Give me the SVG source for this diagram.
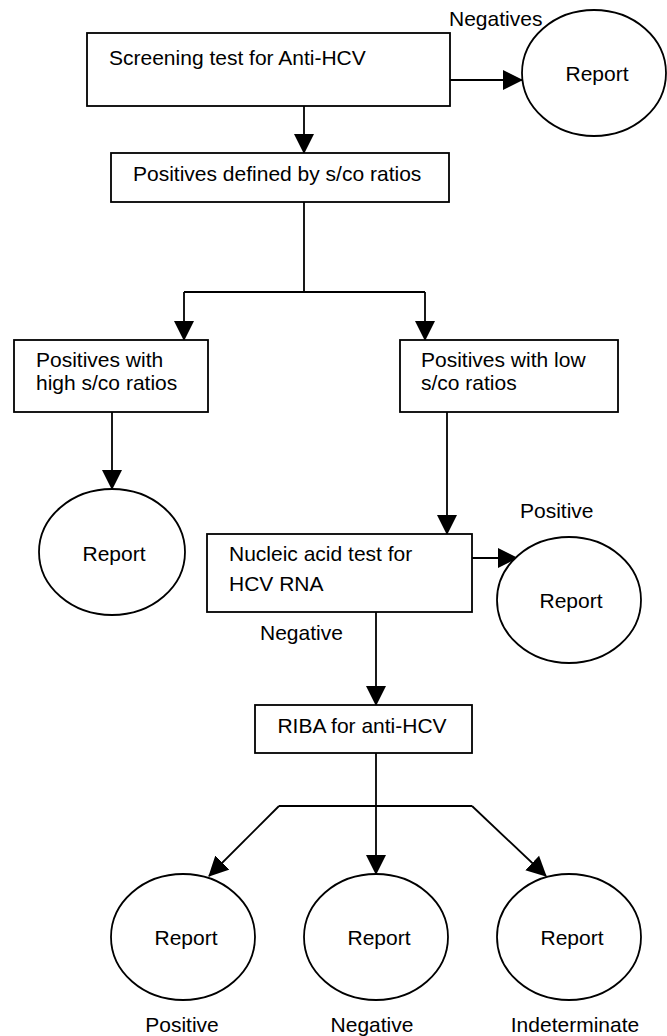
<svg xmlns="http://www.w3.org/2000/svg" width="667" height="1036" viewBox="0 0 667 1036">
<defs>
<style>
.box{fill:#fff;stroke:#000;stroke-width:1.8}
.circ{fill:#fff;stroke:#000;stroke-width:1.8}
.ln{fill:none;stroke:#000;stroke-width:1.8}
text{font-family:"Liberation Sans",Arial,sans-serif;font-size:21px;fill:#000}
.c{text-anchor:middle}
</style>
<marker id="ah" markerUnits="userSpaceOnUse" viewBox="0 0 20 20" markerWidth="20" markerHeight="21" refX="19" refY="10" orient="auto">
<path d="M0,0 L20,10 L0,20 z" fill="#000"/>
</marker>
</defs>
<rect width="667" height="1036" fill="#fff"/>
<g id="connectors">
<path class="ln" d="M450,80 L522,80" marker-end="url(#ah)"/>
<path class="ln" d="M304,106 L304,153" marker-end="url(#ah)"/>
<path class="ln" d="M304,202 L304,292 M184,292 L425,292"/>
<path class="ln" d="M184,292 L184,340" marker-end="url(#ah)"/>
<path class="ln" d="M425,292 L425,340" marker-end="url(#ah)"/>
<path class="ln" d="M112,412 L112,489" marker-end="url(#ah)"/>
<path class="ln" d="M447,412 L447,534" marker-end="url(#ah)"/>
<path class="ln" d="M472,558 L517,558" marker-end="url(#ah)"/>
<path class="ln" d="M376,612 L376,705" marker-end="url(#ah)"/>
<path class="ln" d="M376,753 L376,874" marker-end="url(#ah)"/>
<path class="ln" d="M279,806 L472,806"/>
<path class="ln" d="M279,806 L209,876" marker-end="url(#ah)"/>
<path class="ln" d="M472,806 L546,876" marker-end="url(#ah)"/>
</g>
<g id="screening">
<rect class="box" x="87" y="33" width="363" height="73"/>
<text x="109" y="65">Screening test for Anti-HCV</text>
</g>
<g id="report-negatives">
<ellipse class="circ" cx="594" cy="73" rx="72" ry="63"/>
<text class="c" x="597" y="81">Report</text>
</g>
<text id="lbl-negatives" x="449" y="26">Negatives</text>
<g id="positives-defined">
<rect class="box" x="111" y="153" width="338" height="49"/>
<text x="133" y="181">Positives defined by s/co ratios</text>
</g>
<g id="positives-high">
<rect class="box" x="14" y="340" width="194" height="72"/>
<text x="36" y="367">Positives with</text>
<text x="36" y="390">high s/co ratios</text>
</g>
<g id="positives-low">
<rect class="box" x="400" y="340" width="218" height="72"/>
<text x="421" y="367">Positives with low</text>
<text x="421" y="390">s/co ratios</text>
</g>
<g id="report-high">
<ellipse class="circ" cx="112" cy="552" rx="73" ry="63"/>
<text class="c" x="114" y="561">Report</text>
</g>
<g id="nat">
<rect class="box" x="207" y="534" width="265" height="78"/>
<text x="229" y="561">Nucleic acid test for</text>
<text x="229" y="591">HCV RNA</text>
</g>
<text id="lbl-positive-nat" x="520" y="518">Positive</text>
<g id="report-nat-positive">
<ellipse class="circ" cx="569" cy="600" rx="72" ry="63"/>
<text class="c" x="571" y="608">Report</text>
</g>
<text id="lbl-negative-nat" x="260" y="640">Negative</text>
<g id="riba">
<rect class="box" x="255" y="705" width="217" height="48"/>
<text class="c" x="362" y="733">RIBA for anti-HCV</text>
</g>
<g id="report-riba-positive">
<ellipse class="circ" cx="183" cy="937" rx="72" ry="63"/>
<text class="c" x="186" y="945">Report</text>
</g>
<g id="report-riba-negative">
<ellipse class="circ" cx="376" cy="937" rx="72" ry="63"/>
<text class="c" x="379" y="945">Report</text>
</g>
<g id="report-riba-indeterminate">
<ellipse class="circ" cx="569" cy="937" rx="72" ry="63"/>
<text class="c" x="572" y="945">Report</text>
</g>
<text class="c" x="182" y="1032">Positive</text>
<text class="c" x="372" y="1032">Negative</text>
<text class="c" x="575" y="1032">Indeterminate</text>
</svg>
